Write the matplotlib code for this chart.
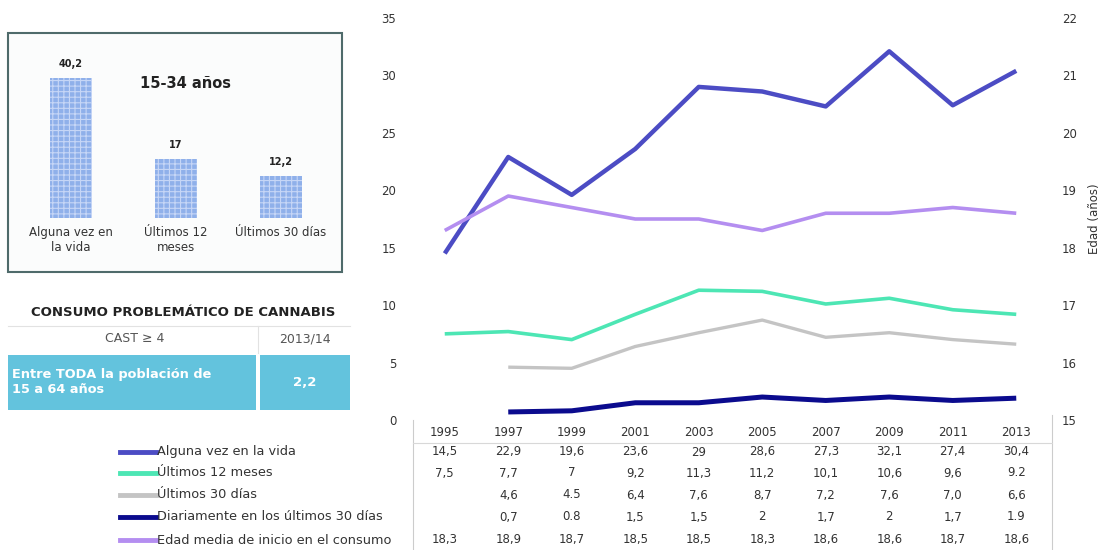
import numpy as np
import matplotlib.pyplot as plt
import matplotlib.transforms as mtransforms
from matplotlib.patches import Rectangle
from matplotlib.lines import Line2D

plt.rcParams['font.family'] = ['DejaVu Sans']

# datos
years = ['1995', '1997', '1999', '2001', '2003', '2005', '2007', '2009', '2011', '2013']
alguna = [14.5, 22.9, 19.6, 23.6, 29, 28.6, 27.3, 32.1, 27.4, 30.4]
ult12 = [7.5, 7.7, 7, 9.2, 11.3, 11.2, 10.1, 10.6, 9.6, 9.2]
ult30 = [np.nan, 4.6, 4.5, 6.4, 7.6, 8.7, 7.2, 7.6, 7.0, 6.6]
diario = [np.nan, 0.7, 0.8, 1.5, 1.5, 2, 1.7, 2, 1.7, 1.9]
edad = [18.3, 18.9, 18.7, 18.5, 18.5, 18.3, 18.6, 18.6, 18.7, 18.6]

txt_alguna = ['14,5', '22,9', '19,6', '23,6', '29', '28,6', '27,3', '32,1', '27,4', '30,4']
txt_ult12 = ['7,5', '7,7', '7', '9,2', '11,3', '11,2', '10,1', '10,6', '9,6', '9.2']
txt_ult30 = ['', '4,6', '4.5', '6,4', '7,6', '8,7', '7,2', '7,6', '7,0', '6,6']
txt_diario = ['', '0,7', '0.8', '1,5', '1,5', '2', '1,7', '2', '1,7', '1.9']
txt_edad = ['18,3', '18,9', '18,7', '18,5', '18,5', '18,3', '18,6', '18,6', '18,7', '18,6']

bar_cats = ['Alguna vez en\nla vida', 'Últimos 12\nmeses', 'Últimos 30 días']
bar_vals = [40.2, 17, 12.2]
bar_txt = ['40,2', '17', '12,2']

W, H = 1102, 550
def fx(x): return x / W
def fy(y): return 1 - y / H

fig = plt.figure(figsize=(11.02, 5.50), dpi=100)
fig.patch.set_facecolor('white')

# --- grafico principal ---
ax = fig.add_axes([fx(413), fy(420), fx(1048) - fx(413), fy(18) - fy(420)])
ax2 = ax.twinx()
x = np.arange(len(years))

series = [
    ('Alguna vez en la vida', alguna, '#4C4CC4', 3.2, ax, txt_alguna),
    ('Últimos 12 meses', ult12, '#4DE6B4', 2.6, ax, txt_ult12),
    ('Últimos 30 días', ult30, '#C4C4C4', 2.4, ax, txt_ult30),
    ('Diariamente en los últimos 30 días', diario, '#0B0B8E', 3.6, ax, txt_diario),
    ('Edad media de inicio en el consumo', edad, '#B48EF0', 2.6, ax2, txt_edad),
]
for name, vals, col, lw, a, _ in series:
    a.plot(x, vals, color=col, lw=lw, solid_capstyle='butt')

ax.set_xlim(-0.5, 9.5)
ax.set_ylim(0, 35)
ax.set_yticks(range(0, 36, 5))
ax2.set_ylim(15, 22)
ax2.set_yticks(range(15, 23))
for a in (ax, ax2):
    for s in a.spines.values():
        s.set_visible(False)
    a.tick_params(length=0, labelsize=8.5, colors='#333333')
ax.tick_params(axis='x', labelbottom=False)
ax.tick_params(axis='y', pad=12)
ax2.tick_params(axis='y', pad=10)
ax2.set_ylabel('Edad (años)', fontsize=8.5, color='#333333', labelpad=8)

# --- tabla de datos ---
tr = mtransforms.blended_transform_factory(ax.transData, fig.transFigure)
for i, yr in enumerate(years):
    fig.text(i, fy(432), yr, transform=tr, ha='center', va='center', fontsize=8.5, color='#333333')
row_y = [452, 473, 495, 517, 540]
for (name, vals, col, lw, a, txts), ry in zip(series, row_y):
    fig.add_artist(Line2D([fx(120), fx(156)], [fy(ry), fy(ry)], color=col, lw=3.5,
                          transform=fig.transFigure))
    fig.text(fx(157), fy(ry), name, ha='left', va='center', fontsize=9.3, color='#333333')
    for i, t in enumerate(txts):
        fig.text(i, fy(ry), t, transform=tr, ha='center', va='center', fontsize=8.5, color='#333333')
fig.add_artist(Line2D([fx(413), fx(413)], [fy(420), fy(550)], color='#cccccc', lw=0.8,
                      transform=fig.transFigure))
fig.add_artist(Line2D([fx(1052), fx(1052)], [fy(415), fy(550)], color='#cccccc', lw=0.8,
                      transform=fig.transFigure))
fig.add_artist(Line2D([fx(413), fx(1052)], [fy(443), fy(443)], color='#d8d8d8', lw=0.8,
                      transform=fig.transFigure))

# --- recuadro 15-34 años ---
box = Rectangle((fx(8), fy(272)), fx(342) - fx(8), fy(33) - fy(272),
                transform=fig.transFigure, facecolor='#fbfcfc',
                edgecolor='#4f6b6b', lw=1.5, zorder=-1)
fig.add_artist(box)
plt.rcParams['hatch.linewidth'] = 0.8
bx = fig.add_axes([fx(18.5), fy(218), fx(333.5) - fx(18.5), fy(51) - fy(218)])
bx.set_zorder(2)
bx.patch.set_alpha(0)
bars = bx.bar(range(3), bar_vals, width=0.4, color='#8FB0EA', edgecolor='#C6D6F6',
              hatch='+++', lw=0)
for b, t in zip(bars, bar_txt):
    bx.text(b.get_x() + b.get_width() / 2, b.get_height() + 2.5, t, ha='center', va='bottom',
            fontsize=7, fontweight='bold', color='#222222')
bx.set_xlim(-0.5, 2.5)
bx.set_ylim(0, 48)
bx.set_yticks([])
bx.set_xticks(range(3))
bx.set_xticklabels(bar_cats, fontsize=8.5, color='#333333', linespacing=1.2)
bx.tick_params(length=0, pad=6)
for s in bx.spines.values():
    s.set_visible(False)
fig.text(fx(185), fy(84), '15-34 años', ha='center', va='center', fontsize=10.5,
         fontweight='bold', color='#222222')

# --- consumo problematico ---
fig.text(fx(183), fy(312), 'CONSUMO PROBLEMÁTICO DE CANNABIS', ha='center', va='center',
         fontsize=9.5, fontweight='bold', color='#222222')
fig.add_artist(Line2D([fx(8), fx(350)], [fy(326), fy(326)], color='#e2e2e2', lw=0.8,
                      transform=fig.transFigure))
fig.add_artist(Line2D([fx(258), fx(258)], [fy(326), fy(353)], color='#e2e2e2', lw=0.8,
                      transform=fig.transFigure))
fig.text(fx(135), fy(339), 'CAST ≥ 4', ha='center', va='center', fontsize=9, color='#555555')
fig.text(fx(305), fy(339), '2013/14', ha='center', va='center', fontsize=9, color='#555555')
fig.add_artist(Rectangle((fx(8), fy(410)), fx(256) - fx(8), fy(355) - fy(410),
                         transform=fig.transFigure, facecolor='#63C3DD', lw=0))
fig.add_artist(Rectangle((fx(260), fy(410)), fx(350) - fx(260), fy(355) - fy(410),
                         transform=fig.transFigure, facecolor='#63C3DD', lw=0))
fig.text(fx(12), fy(382), 'Entre TODA la población de\n15 a 64 años', ha='left', va='center',
         fontsize=9.3, fontweight='bold', color='white', linespacing=1.15)
fig.text(fx(305), fy(383), '2,2', ha='center', va='center', fontsize=9.5,
         fontweight='bold', color='white')

fig.savefig('out.png', dpi=100)
